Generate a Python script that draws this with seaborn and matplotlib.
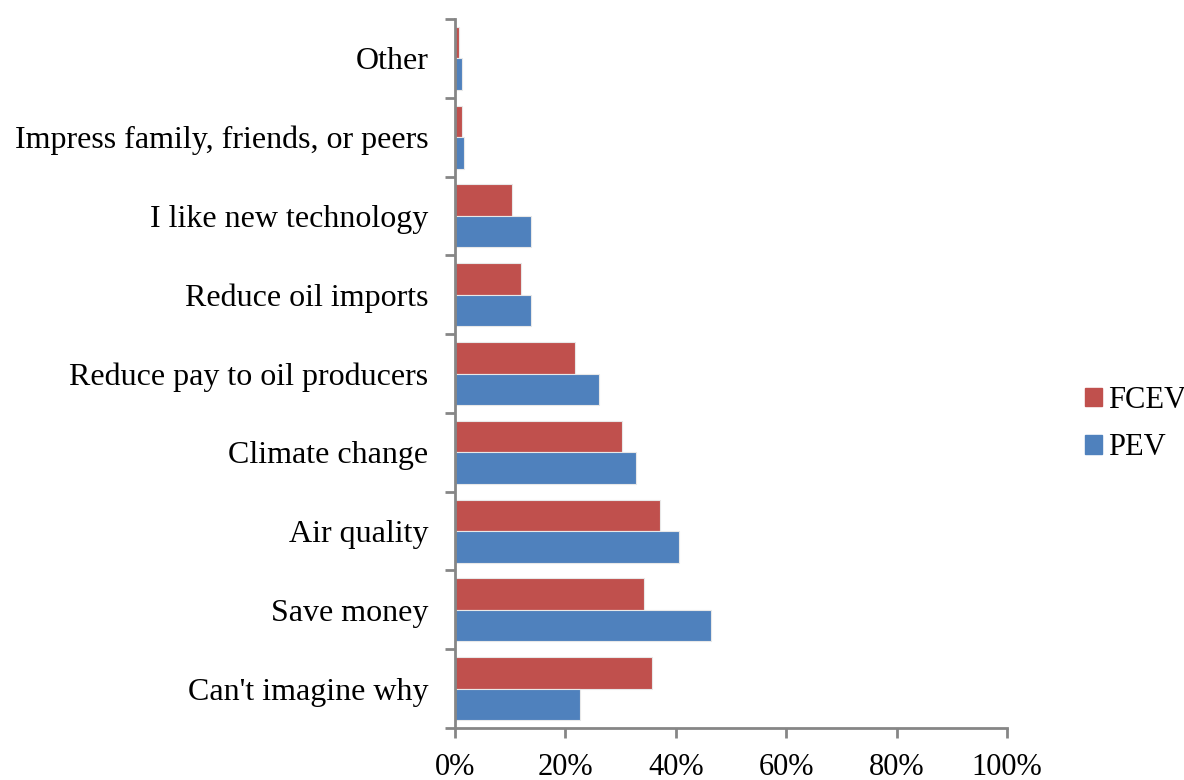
import matplotlib
matplotlib.use('Agg')
import matplotlib.pyplot as plt
import pandas as pd
import seaborn as sns
import numpy as np
from matplotlib.ticker import FixedLocator, PercentFormatter

# Survey reasons (top to bottom as drawn)
reasons = ["Other", "Impress family, friends, or peers", "I like new technology",
           "Reduce oil imports", "Reduce pay to oil producers", "Climate change",
           "Air quality", "Save money", "Can't imagine why"]
fcev = [0.7, 1.2, 10.4, 11.9, 21.7, 30.3, 37.1, 34.2, 35.7]
pev = [1.2, 1.7, 13.8, 13.8, 26.1, 32.8, 40.6, 46.4, 22.6]
series = ["FCEV", "PEV"]
colors = ["#C0504D", "#4F81BD"]

df = pd.DataFrame({
    'reason': reasons * 2,
    'share': fcev + pev,
    'vehicle': ["FCEV"] * len(reasons) + ["PEV"] * len(reasons),
})

sns.set_style('white')
plt.rcParams['font.family'] = ['Liberation Serif', 'DejaVu Serif']
plt.rcParams['text.color'] = 'black'

fig = plt.figure(figsize=(11.84, 7.80), dpi=100)
ax = fig.add_axes([455 / 1184, 1 - 728 / 780, (1007 - 455) / 1184, (728 - 19) / 780])

sns.barplot(data=df, y='reason', x='share', hue='vehicle', order=reasons,
            hue_order=series, palette=colors, saturation=1, orient='h', width=0.8,
            edgecolor='#e8e8e8', linewidth=0.8, ax=ax, legend=False)

ax.set_xlim(0, 100)
ax.set_ylim(len(reasons) - 0.5, -0.5)
ax.set_xticks(np.arange(0, 101, 20))
ax.xaxis.set_major_formatter(PercentFormatter(decimals=0))
ax.yaxis.set_minor_locator(FixedLocator(np.arange(-0.5, len(reasons), 1)))
ax.tick_params(axis='y', which='major', length=0, labelsize=23, pad=19, labelcolor='black')
ax.tick_params(axis='y', which='minor', length=7, width=2, color='#868686', direction='out', left=True)
ax.tick_params(axis='x', which='major', length=7, width=2, color='#868686', direction='out',
               labelsize=22, pad=11, bottom=True, labelcolor='black')
ax.set_xlabel('')
ax.set_ylabel('')
for s in ['top', 'right']:
    ax.spines[s].set_visible(False)
for s in ['left', 'bottom']:
    ax.spines[s].set_color('#868686')
    ax.spines[s].set_linewidth(2)

handles = [plt.Rectangle((0, 0), 1, 1, color=c) for c in colors]
fig.legend(handles, series, loc='center left', bbox_to_anchor=(1085 / 1184, 1 - 424 / 780),
           frameon=False, fontsize=22, handlelength=0.55, handleheight=0.55,
           handletextpad=0.2, labelspacing=0.6, borderaxespad=0, borderpad=0)

plt.savefig('out.png', dpi=100)
